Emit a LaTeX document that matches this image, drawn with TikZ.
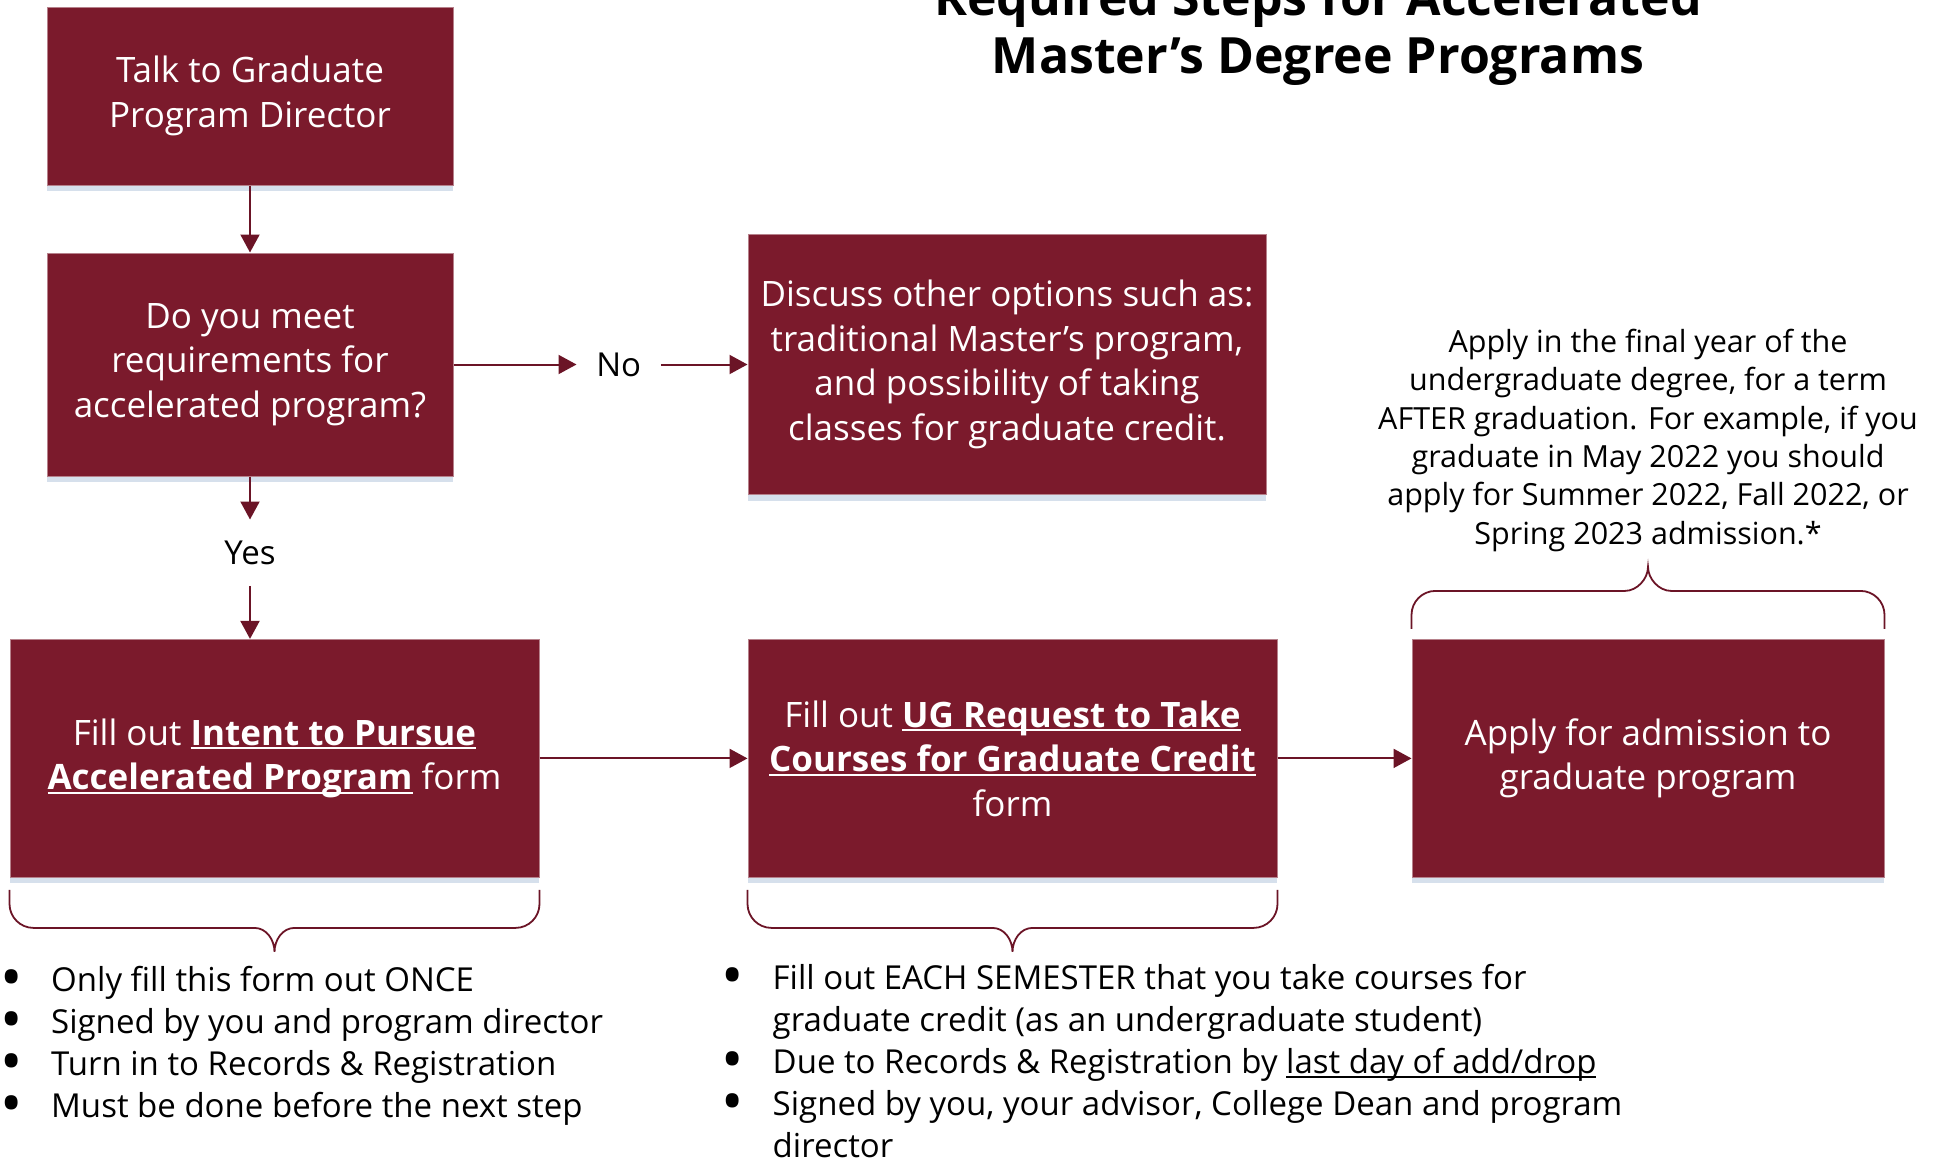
\documentclass[tikz,border=0pt]{standalone}
\usepackage{fontspec}
\setmainfont{Open Sans}
\usepackage{tikz}
\usetikzlibrary{arrows.meta, positioning, calc, shadows}

\definecolor{wine}{HTML}{7B1A2C}
\definecolor{winedark}{HTML}{6B1426}
\definecolor{shade}{HTML}{D6E0EC}

\newcommand{\undl}[2][2pt]{\setbox0=\hbox{#2}\rlap{\rule[-4pt]{\wd0}{#1}}\box0\relax}
\newcommand{\bul}{\makebox[51pt][l]{\raisebox{-.2em}{\scalebox{1.8}{\textbullet}}}}

\begin{document}
\begin{tikzpicture}[
      x=1pt, y=1pt,
      stepbox/.style={rectangle, draw=wine!55!white, line width=1pt, fill=wine, text=white,
                      align=center, font=\fontsize{35}{44.5}\selectfont,
                      drop shadow={shadow xshift=0pt, shadow yshift=-6pt, fill=shade, opacity=1}},
      answer/.style ={font=\fontsize{33}{40}\selectfont, inner sep=0pt},
      note/.style   ={align=center, inner sep=0pt, font=\fontsize{30.5}{38.4}\selectfont},
      bullets/.style={inner sep=0pt, font=\fontsize{33}{42}\selectfont},
      heading/.style={align=center, inner sep=0pt, font=\bfseries\fontsize{50}{58}\selectfont},
      flow/.style   ={draw=winedark, line width=2pt, -{Triangle[length=18pt, width=19pt]}},
      curly/.style  ={draw=winedark, line width=1.8pt}
    ]

    \useasboundingbox (0,0) rectangle (1935,-1162);
    \clip (0,0) rectangle (1935,-1162);

    % Overskrift
    \node[heading, anchor=base] (title) at (1318,-73) {Required Steps for Accelerated\\Master's Degree Programs};

    % Forste kolonne
    \node[stepbox, minimum width=406pt, minimum height=178pt] (talk) at (250,-96) {Talk to Graduate\\Program Director};
    \node[stepbox, minimum width=406pt, minimum height=223pt, below=67pt of talk] (meet) {Do you meet\\requirements for\\accelerated program?};
    \draw[flow] (talk) -- (meet);

    % Nei-grenen
    \node[answer, minimum width=84pt, right=123pt of meet] (no) {No};
    \node[stepbox, minimum width=518pt, minimum height=260pt, right=294pt of meet] (discuss)
         {Discuss other options such as:\\traditional Master's program,\\and possibility of taking\\classes for graduate credit.};
    \draw[flow] (meet) -- (no);
    \draw[flow] (no) -- (discuss);

    % Ja-grenen
    \node[answer, minimum height=66pt, below=43pt of meet] (yes) {Yes};
    \draw[flow] (meet) -- (yes);

    % Nederste rad
    \node[stepbox, minimum width=529pt, minimum height=238pt, below=53pt of yes, xshift=24.5pt] (intent)
         {Fill out \undl{\textbf{Intent to Pursue}}\\\undl{\textbf{Accelerated Program}} form};
    \node[stepbox, minimum width=529pt, minimum height=238pt, right=208pt of intent] (ugreq)
         {Fill out \undl{\textbf{UG Request to Take}}\\\undl{\textbf{Courses for Graduate Credit}}\\form};
    \node[stepbox, minimum width=472pt, minimum height=238pt, right=134pt of ugreq] (apply)
         {Apply for admission to\\graduate program};
    \draw[flow] (yes) -- (yes |- intent.north);
    \draw[flow] (intent) -- (ugreq);
    \draw[flow] (ugreq) -- (apply);

    % Merknad over soknaden
    \node[note, above=87pt of apply] (when)
         {Apply in the final year of the\\undergraduate degree, for a term\\AFTER graduation. For example, if you\\graduate in May 2022 you should\\apply for Summer 2022, Fall 2022, or\\Spring 2023 admission.*};

    % Klammer
    \draw[curly] ($(intent.south west)+(0,-12)$) -- ++(0,-14) arc[start angle=180, end angle=270, radius=24pt]
        -- ($(intent.south)+(-20,-50)$) .. controls +(12,0) and +(0,12) .. ($(intent.south)+(0,-74)$)
        .. controls +(0,12) and +(-12,0) .. ($(intent.south)+(20,-50)$)
        -- ($(intent.south east)+(-24,-50)$) arc[start angle=270, end angle=360, radius=24pt] -- ++(0,14);
    \draw[curly] ($(ugreq.south west)+(0,-12)$) -- ++(0,-14) arc[start angle=180, end angle=270, radius=24pt]
        -- ($(ugreq.south)+(-20,-50)$) .. controls +(12,0) and +(0,12) .. ($(ugreq.south)+(0,-74)$)
        .. controls +(0,12) and +(-12,0) .. ($(ugreq.south)+(20,-50)$)
        -- ($(ugreq.south east)+(-24,-50)$) arc[start angle=270, end angle=360, radius=24pt] -- ++(0,14);
    \draw[curly] ($(apply.north west)+(0,10)$) -- ++(0,14) arc[start angle=180, end angle=90, radius=24pt]
        -- ($(apply.north)+(-23,48)$) .. controls +(12,0) and +(0,-12) .. ($(apply.north)+(0,72)$)
        .. controls +(0,-12) and +(-12,0) .. ($(apply.north)+(23,48)$)
        -- ($(apply.north east)+(-24,48)$) arc[start angle=90, end angle=0, radius=24pt] -- ++(0,-14);

    % Punktlister
    \node[bullets, below=84pt of intent.south west, xshift=-9.5pt, anchor=north west] (once)
         {\begin{tabular}{@{}l@{}l@{}}
          \bul & Only fill this form out ONCE\\
          \bul & Signed by you and program director\\
          \bul & Turn in to Records \& Registration\\
          \bul & Must be done before the next step
          \end{tabular}};
    \node[bullets, below=82pt of ugreq.south west, xshift=-26pt, anchor=north west] (each)
         {\begin{tabular}{@{}l@{}l@{}}
          \bul & Fill out EACH SEMESTER that you take courses for\\
               & graduate credit (as an undergraduate student)\\
          \bul & Due to Records \& Registration by \undl[1.5pt]{last day of add/drop}\\
          \bul & Signed by you, your advisor, College Dean and program\\
               & director
          \end{tabular}};

  \end{tikzpicture}
\end{document}
